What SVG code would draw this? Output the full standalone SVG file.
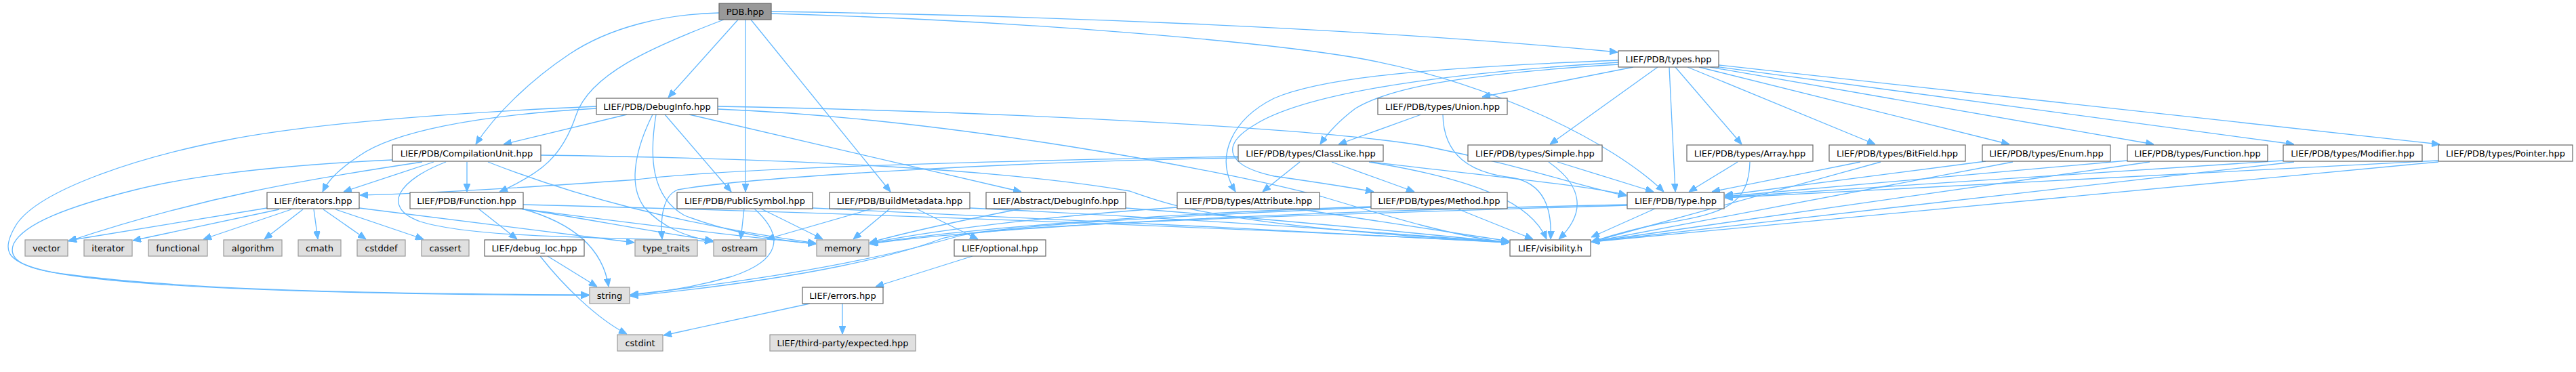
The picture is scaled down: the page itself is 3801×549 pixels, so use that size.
<svg xmlns="http://www.w3.org/2000/svg" width="3801" height="549" viewBox="0 0 3801 549">
<style>
rect{stroke-width:1.2}
.n rect{fill:#ffffff;stroke:#666666}
.s rect{fill:#e0e0e0;stroke:#999999}
.r rect{fill:#999999;stroke:#666666}
text{font-family:"DejaVu Sans","Liberation Sans",sans-serif;font-size:13px;text-anchor:middle;fill:#000}
#edges path{fill:none;stroke:#63b8ff;stroke-width:1.3;marker-end:url(#a)}
</style>
<defs>
<marker id="a" markerUnits="userSpaceOnUse" markerWidth="12" markerHeight="10" refX="12" refY="5" orient="auto" viewBox="0 0 12 10">
<path d="M0,0 L12,5 L0,10 z" fill="#63b8ff" stroke="#63b8ff" stroke-width="1"/>
</marker>
</defs>
<rect width="3801" height="549" fill="#ffffff"/>
<g id="edges">
<path d="M1061,19 C980,21 900,40 840,80 C780,120 730,170 702,213"/>
<path d="M1089,29 L986,144"/>
<path d="M1068,29 C960,70 870,110 850,170 C830,230 800,255 737,283"/>
<path d="M1100,29 L1100,283"/>
<path d="M1108,29 L1314,283"/>
<path d="M1138,17 C1500,22 2000,40 2387,77"/>
<path d="M1138,20 C1500,30 1850,60 2000,85 C2200,120 2380,210 2455,283"/>
<path d="M880,157 C700,165 470,180 333,207 C200,233 60,280 25,330 C0,370 10,385 60,398 C150,420 400,434 869,436"/>
<path d="M880,160 C700,170 580,195 530,230 C500,250 485,265 476,283"/>
<path d="M925,169 L743,213"/>
<path d="M963,169 C940,215 925,270 950,305 C980,340 1020,350 1052,357"/>
<path d="M968,169 C958,230 960,290 1010,318 C1080,345 1150,355 1204,360"/>
<path d="M981,169 L1079,283"/>
<path d="M1017,169 L1507,283"/>
<path d="M1059,157 C1500,165 1950,190 2100,215 C2250,245 2330,275 2400,289"/>
<path d="M1059,161 C1400,175 1800,250 1950,290 C2050,320 2150,350 2227,358"/>
<path d="M579,236 C450,242 300,255 200,280 C100,305 35,330 20,360 C10,385 40,398 100,405 C250,425 500,434 869,435"/>
<path d="M623,239 C450,265 300,290 101,356"/>
<path d="M640,239 L507,283"/>
<path d="M689,239 L689,283"/>
<path d="M658,239 C590,265 560,305 620,327 C700,352 900,350 1052,356"/>
<path d="M720,239 C850,290 1000,330 1204,359"/>
<path d="M798,229 C1100,233 1450,245 1667,282 C1720,300 1800,335 2227,357"/>
<path d="M706,308 L763,353"/>
<path d="M770,308 C850,330 890,370 898,423"/>
<path d="M767,308 C850,320 950,340 1052,355"/>
<path d="M767,308 C900,325 1050,345 1204,360"/>
<path d="M772,302 C1300,315 1900,340 2227,358"/>
<path d="M394,307 L101,355"/>
<path d="M412,309 L196,355"/>
<path d="M430,309 L300,353"/>
<path d="M447,309 L390,353"/>
<path d="M463,309 L469,353"/>
<path d="M477,309 L540,353"/>
<path d="M495,309 L625,353"/>
<path d="M530,307 L936,358"/>
<path d="M808,378 L881,423"/>
<path d="M797,378 C830,420 880,470 925,493"/>
<path d="M1098,308 L1093,353"/>
<path d="M1123,308 L1214,353"/>
<path d="M1113,308 C1160,350 1150,385 1080,408 C1020,425 970,432 930,435"/>
<path d="M1199,307 C1500,320 1900,340 2227,358"/>
<path d="M1287,308 L1131,353"/>
<path d="M1313,308 L1259,353"/>
<path d="M1352,308 L1443,353"/>
<path d="M1431,307 C1700,320 2000,340 2227,358"/>
<path d="M1507,308 C1420,325 1330,345 1283,358"/>
<path d="M1661,307 C1900,325 2100,345 2227,358"/>
<path d="M1737,306 C1600,315 1400,335 1283,359"/>
<path d="M1913,308 L2227,356"/>
<path d="M2023,305 C1700,315 1400,340 1283,360"/>
<path d="M2023,306 C1700,320 1450,335 1390,352 C1330,375 1200,410 930,437"/>
<path d="M2150,308 L2262,353"/>
<path d="M1827,231 C1600,235 1100,245 940,265 C800,275 650,285 531,288"/>
<path d="M1827,233 C1500,238 1100,262 1000,280 C975,290 975,330 977,353"/>
<path d="M1918,239 L1863,283"/>
<path d="M1965,239 L2087,283"/>
<path d="M2023,239 C2200,260 2350,275 2400,288"/>
<path d="M2020,239 C2180,265 2260,300 2282,353"/>
<path d="M2388,89 C2100,100 1950,115 1880,145 C1820,175 1790,230 1823,283"/>
<path d="M2388,92 C2100,110 1920,140 1850,185 C1800,215 1810,245 1880,260 C1950,270 2000,278 2027,283"/>
<path d="M2388,95 C2150,110 2050,130 2000,160 C1980,175 1960,195 1948,213"/>
<path d="M2410,99 L2187,143"/>
<path d="M2446,99 L2287,213"/>
<path d="M2463,99 L2472,283"/>
<path d="M2472,99 L2570,213"/>
<path d="M2490,99 L2767,213"/>
<path d="M2507,99 L2965,213"/>
<path d="M2523,99 L3178,213"/>
<path d="M2530,98 L3385,213"/>
<path d="M2536,96 L3600,213"/>
<path d="M2097,169 L1975,213"/>
<path d="M2129,169 C2130,230 2170,255 2230,262 C2280,270 2290,310 2288,353"/>
<path d="M2298,239 L2440,283"/>
<path d="M2285,239 C2330,270 2345,310 2300,353"/>
<path d="M2564,239 L2492,283"/>
<path d="M2582,239 C2580,300 2550,315 2450,330 C2400,340 2370,350 2348,357"/>
<path d="M2745,239 L2526,283"/>
<path d="M2775,239 L2348,357"/>
<path d="M2930,238 L2545,288"/>
<path d="M2970,239 L2348,357"/>
<path d="M3139,237 L2545,290"/>
<path d="M3172,239 L2348,357"/>
<path d="M3369,237 L2545,291"/>
<path d="M3385,239 L2348,357"/>
<path d="M3598,237 L2545,292"/>
<path d="M3598,239 L2348,357"/>
<path d="M2442,308 L2348,350"/>
<path d="M2401,303 C2000,315 1500,330 1420,347 C1340,370 1200,405 930,435"/>
<path d="M2401,302 C2000,310 1500,330 1283,360"/>
<path d="M1435,378 L1292,423"/>
<path d="M1195,448 L979,495"/>
<path d="M1243,448 L1243,493"/>
</g>
<g id="PDB" class="r"><rect x="1061" y="5" width="77" height="24"/><text x="1099.5" y="21.5">PDB.hpp</text></g>
<g id="types" class="n"><rect x="2388" y="75" width="148" height="24"/><text x="2462" y="91.5">LIEF/PDB/types.hpp</text></g>
<g id="DebugInfo" class="n"><rect x="880" y="145" width="179" height="24"/><text x="969.5" y="161.5">LIEF/PDB/DebugInfo.hpp</text></g>
<g id="Union" class="n"><rect x="2033" y="145" width="191" height="24"/><text x="2128.5" y="161.5">LIEF/PDB/types/Union.hpp</text></g>
<g id="CompilationUnit" class="n"><rect x="579" y="214" width="219" height="24"/><text x="688.5" y="230.5">LIEF/PDB/CompilationUnit.hpp</text></g>
<g id="ClassLike" class="n"><rect x="1827" y="214" width="214" height="24"/><text x="1934" y="230.5">LIEF/PDB/types/ClassLike.hpp</text></g>
<g id="Simple" class="n"><rect x="2166" y="214" width="198" height="24"/><text x="2265" y="230.5">LIEF/PDB/types/Simple.hpp</text></g>
<g id="Array" class="n"><rect x="2489" y="214" width="186" height="24"/><text x="2582" y="230.5">LIEF/PDB/types/Array.hpp</text></g>
<g id="BitField" class="n"><rect x="2699" y="214" width="201" height="24"/><text x="2799.5" y="230.5">LIEF/PDB/types/BitField.hpp</text></g>
<g id="Enum" class="n"><rect x="2925" y="214" width="189" height="24"/><text x="3019.5" y="230.5">LIEF/PDB/types/Enum.hpp</text></g>
<g id="TFunction" class="n"><rect x="3139" y="214" width="207" height="24"/><text x="3242.5" y="230.5">LIEF/PDB/types/Function.hpp</text></g>
<g id="Modifier" class="n"><rect x="3369" y="214" width="205" height="24"/><text x="3471.5" y="230.5">LIEF/PDB/types/Modifier.hpp</text></g>
<g id="Pointer" class="n"><rect x="3598" y="214" width="198" height="24"/><text x="3697" y="230.5">LIEF/PDB/types/Pointer.hpp</text></g>
<g id="iterators" class="n"><rect x="394" y="284" width="136" height="24"/><text x="462" y="300.5">LIEF/iterators.hpp</text></g>
<g id="Function" class="n"><rect x="605" y="284" width="167" height="24"/><text x="688.5" y="300.5">LIEF/PDB/Function.hpp</text></g>
<g id="PublicSymbol" class="n"><rect x="999" y="284" width="200" height="24"/><text x="1099" y="300.5">LIEF/PDB/PublicSymbol.hpp</text></g>
<g id="BuildMetadata" class="n"><rect x="1224" y="284" width="207" height="24"/><text x="1327.5" y="300.5">LIEF/PDB/BuildMetadata.hpp</text></g>
<g id="AbstractDebugInfo" class="n"><rect x="1455" y="284" width="206" height="24"/><text x="1558" y="300.5">LIEF/Abstract/DebugInfo.hpp</text></g>
<g id="Attribute" class="n"><rect x="1737" y="284" width="210" height="24"/><text x="1842" y="300.5">LIEF/PDB/types/Attribute.hpp</text></g>
<g id="Method" class="n"><rect x="2023" y="284" width="201" height="24"/><text x="2123.5" y="300.5">LIEF/PDB/types/Method.hpp</text></g>
<g id="Type" class="n"><rect x="2401" y="284" width="143" height="24"/><text x="2472.5" y="300.5">LIEF/PDB/Type.hpp</text></g>
<g id="vector" class="s"><rect x="37" y="354" width="63" height="24"/><text x="68.5" y="370.5">vector</text></g>
<g id="iterator" class="s"><rect x="124" y="354" width="71" height="24"/><text x="159.5" y="370.5">iterator</text></g>
<g id="functional" class="s"><rect x="219" y="354" width="87" height="24"/><text x="262.5" y="370.5">functional</text></g>
<g id="algorithm" class="s"><rect x="330" y="354" width="86" height="24"/><text x="373" y="370.5">algorithm</text></g>
<g id="cmath" class="s"><rect x="440" y="354" width="63" height="24"/><text x="471.5" y="370.5">cmath</text></g>
<g id="cstddef" class="s"><rect x="527" y="354" width="71" height="24"/><text x="562.5" y="370.5">cstddef</text></g>
<g id="cassert" class="s"><rect x="622" y="354" width="70" height="24"/><text x="657" y="370.5">cassert</text></g>
<g id="debug_loc" class="n"><rect x="715" y="354" width="147" height="24"/><text x="788.5" y="370.5">LIEF/debug_loc.hpp</text></g>
<g id="type_traits" class="s"><rect x="937" y="354" width="92" height="24"/><text x="983" y="370.5">type_traits</text></g>
<g id="ostream" class="s"><rect x="1053" y="354" width="77" height="24"/><text x="1091.5" y="370.5">ostream</text></g>
<g id="memory" class="s"><rect x="1205" y="354" width="77" height="24"/><text x="1243.5" y="370.5">memory</text></g>
<g id="optional" class="n"><rect x="1408" y="354" width="135" height="24"/><text x="1475.5" y="370.5">LIEF/optional.hpp</text></g>
<g id="visibility" class="n"><rect x="2228" y="354" width="119" height="24"/><text x="2287.5" y="370.5">LIEF/visibility.h</text></g>
<g id="string" class="s"><rect x="870" y="424" width="59" height="24"/><text x="899.5" y="440.5">string</text></g>
<g id="errors" class="n"><rect x="1184" y="424" width="119" height="24"/><text x="1243.5" y="440.5">LIEF/errors.hpp</text></g>
<g id="cstdint" class="s"><rect x="911" y="494" width="67" height="24"/><text x="944.5" y="510.5">cstdint</text></g>
<g id="expected" class="s"><rect x="1136" y="494" width="215" height="24"/><text x="1243.5" y="510.5">LIEF/third-party/expected.hpp</text></g>
</svg>
